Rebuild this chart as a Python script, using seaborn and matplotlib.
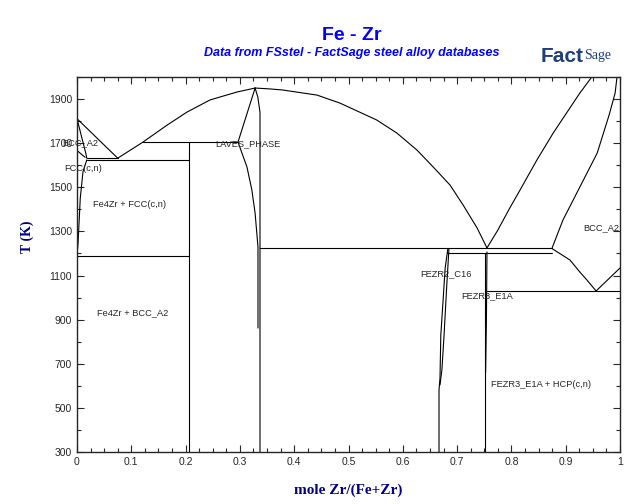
import pandas as pd
import matplotlib
matplotlib.use('Agg')
import matplotlib.pyplot as plt
from matplotlib.ticker import FuncFormatter
import seaborn as sns

# phase boundaries
# x = mole Zr/(Fe+Zr), T in K
fe_liq_x = [0, 0.075]
fe_liq_t = [1811, 1632]
bcc_sol_x = [0, 0.0166, 0.018]
bcc_sol_t = [1811, 1650, 1632]
bcc_fcc_x = [0, 0.008, 0.015]
bcc_fcc_t = [1667, 1650, 1636]
fcc_solv_x = [0.018, 0.011, 0.006, 0.002, 0]
fcc_solv_t = [1624, 1570, 1450, 1250, 1188]
laves_liq_x = [0.075, 0.1215, 0.166, 0.2026, 0.245, 0.2947, 0.328]
laves_liq_t = [1632, 1705, 1782, 1841, 1896, 1932, 1950]
dome_x = [0.328, 0.355, 0.379, 0.442, 0.484, 0.552, 0.589, 0.626, 0.656, 0.687, 0.711, 0.737, 0.755]
dome_t = [1950, 1946, 1941, 1918, 1882, 1805, 1746, 1669, 1592, 1510, 1420, 1315, 1225]
zr_liq_x = [0.755, 0.775, 0.797, 0.816, 0.847, 0.877, 0.926, 0.948]
zr_liq_t = [1225, 1306, 1406, 1488, 1624, 1746, 1927, 2000]
zr_sol_x = [0.875, 0.895, 0.926, 0.958, 0.980, 0.991, 0.9945]
zr_sol_t = [1225, 1352, 1501, 1655, 1828, 1927, 2000]
bcc_solv_x = [0.875, 0.908, 0.926, 0.939, 0.956]
bcc_solv_t = [1222, 1170, 1116, 1080, 1030]
hcp_x = [0.956, 1.0]
hcp_t = [1030, 1134]
laves_left_x = [0.328, 0.2965, 0.313, 0.322, 0.328, 0.3333, 0.3333]
laves_left_t = [1950, 1705, 1592, 1488, 1383, 1229, 862]
laves_right_x = [0.328, 0.333, 0.337, 0.337]
laves_right_t = [1950, 1909, 1840, 300]
c16_left_x = [0.683, 0.678, 0.674, 0.670, 0.6685, 0.6667, 0.6667]
c16_left_t = [1222, 1134, 980, 830, 635, 581, 300]
c16_right_x = [0.685, 0.681, 0.676, 0.672, 0.6685]
c16_right_t = [1222, 1057, 830, 672, 604]
e1a_x = [0.7514, 0.7514]
e1a_t = [1204, 300]
e1a_right_x = [0.755, 0.754, 0.7525]
e1a_right_t = [1207, 900, 660]
fe4zr_x = [0.207, 0.207]
fe4zr_t = [300, 1705]

# invariant (horizontal) lines
iso_x0 = [0.018, 0.018, 0.1215, 0, 0.337, 0.682, 0.755]
iso_x1 = [0.075, 0.207, 0.2965, 0.207, 0.875, 0.875, 1.0]
iso_t = [1632, 1624, 1705, 1188, 1225, 1204, 1030]

label_text = ['BCC_A2', 'FCC(c,n)', 'Fe4Zr + FCC(c,n)', 'Fe4Zr + BCC_A2', 'LAVES_PHASE',
              'FEZR2_C16', 'FEZR3_E1A', 'BCC_A2', 'FEZR3_E1A + HCP(c,n)']
label_x = [-0.028, -0.024, 0.0295, 0.036, 0.254, 0.632, 0.707, 0.932, 0.762]
label_t = [1701, 1587, 1420, 930, 1696, 1107, 1007, 1315, 608]

curves = {
    'fe_liq': (fe_liq_x, fe_liq_t),
    'bcc_sol': (bcc_sol_x, bcc_sol_t),
    'bcc_fcc': (bcc_fcc_x, bcc_fcc_t),
    'fcc_solv': (fcc_solv_x, fcc_solv_t),
    'laves_liq': (laves_liq_x, laves_liq_t),
    'dome': (dome_x, dome_t),
    'zr_liq': (zr_liq_x, zr_liq_t),
    'zr_sol': (zr_sol_x, zr_sol_t),
    'bcc_solv': (bcc_solv_x, bcc_solv_t),
    'hcp': (hcp_x, hcp_t),
    'laves_left': (laves_left_x, laves_left_t),
    'laves_right': (laves_right_x, laves_right_t),
    'c16_left': (c16_left_x, c16_left_t),
    'c16_right': (c16_right_x, c16_right_t),
    'e1a': (e1a_x, e1a_t),
    'e1a_right': (e1a_right_x, e1a_right_t),
    'fe4zr': (fe4zr_x, fe4zr_t),
}
for i, (a, b, t) in enumerate(zip(iso_x0, iso_x1, iso_t)):
    curves['iso%d' % i] = ([a, b], [t, t])

rows = []
for name, (xs, ts) in curves.items():
    for x, t in zip(xs, ts):
        rows.append({'seg': name, 'x': x, 'T': t})
df = pd.DataFrame(rows)

sns.set_style('ticks')
plt.rcParams['font.family'] = ['Liberation Sans', 'DejaVu Sans']

fig = plt.figure(figsize=(6.4, 5.04), dpi=100)
ax = fig.add_axes([77 / 640, 1 - 452 / 504, 543 / 640, 375 / 504])

sns.lineplot(data=df, x='x', y='T', units='seg', estimator=None, sort=False,
             color='black', linewidth=0.8, legend=False, ax=ax)

ax.set_xlim(0, 1)
ax.set_ylim(300, 2000)
ax.set_xticks([i / 10 for i in range(11)])
ax.set_xticks([i / 40 for i in range(41)], minor=True)
ax.set_yticks(list(range(300, 2000, 200)))
ax.set_yticks(list(range(300, 2001, 100)), minor=True)
ax.xaxis.set_major_formatter(FuncFormatter(lambda v, p: '%g' % round(v, 2)))
ax.tick_params(which='both', direction='in', top=True, right=True, labelsize=7.5, width=0.8)
ax.tick_params(which='major', length=5)
ax.tick_params(which='minor', length=3)
for s in ax.spines.values():
    s.set_linewidth(1)

ax.set_xlabel('mole Zr/(Fe+Zr)', family='Liberation Serif', weight='bold', color='#000080',
              size=11, labelpad=12)
ax.set_ylabel('T (K)', family='Liberation Serif', weight='bold', color='#000080', size=10)
ax.yaxis.set_label_coords(-0.079, 0.573)

for txt, x, t in zip(label_text, label_x, label_t):
    ax.text(x, t, txt, ha='left', va='center', size=6.7, clip_on=False)

fig.text(352 / 640, 1 - 36 / 504, 'Fe - Zr', ha='center', va='center', size=14,
         weight='bold', color='#0000ff')
fig.text(352 / 640, 1 - 53 / 504, 'Data from FSstel - FactSage steel alloy databases',
         ha='center', va='center', size=9, weight='bold', style='italic', color='#0000ff')
# FactSage logo approximated with text
fig.text(541 / 640, 1 - 56 / 504, 'Fact', ha='left', va='center', size=15,
         weight='heavy', color='#1f3f7a')
fig.text(584 / 640, 1 - 56 / 504, 'Sage', ha='left', va='center', size=10,
         color='#1f3f7a', family='Liberation Serif')

fig.savefig('out.png', dpi=100)
